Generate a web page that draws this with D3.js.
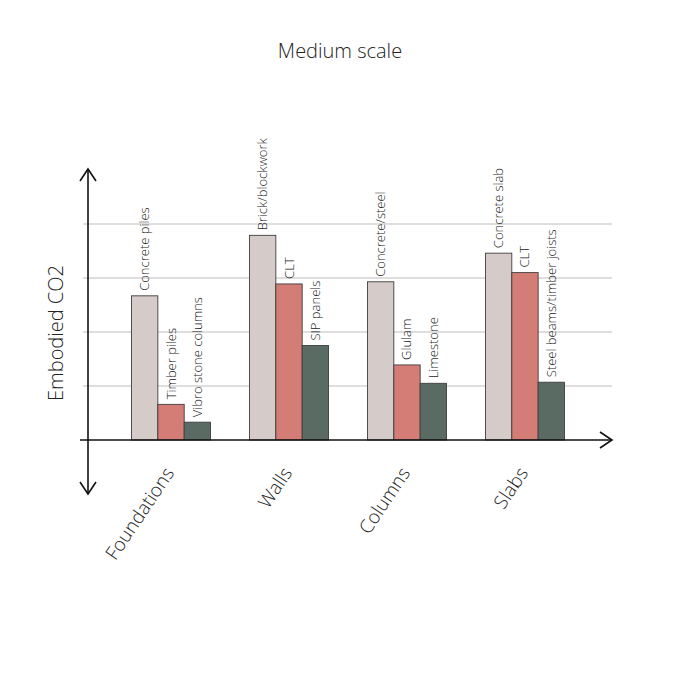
<!DOCTYPE html>
<html>
<head>
<meta charset="utf-8">
<script src="https://cdn.jsdelivr.net/npm/d3@7"></script>
<style>
  body { margin: 0; background: #fff; }
  text { font-family: "Open Sans", Lato, sans-serif; font-weight: 300; fill: #222; }
</style>
</head>
<body>
<svg id="chart"></svg>
<script>
// groups along the x axis
const categories = ['Foundations', 'Walls', 'Columns', 'Slabs'];
const series = ['high', 'mid', 'low'];

// bar names per group (high / mid / low)
const labelsHigh = ['Concrete piles', 'Brick/blockwork', 'Concrete/steel', 'Concrete slab'];
const labelsMid = ['Timber piles', 'CLT', 'Glulam', 'CLT'];
const labelsLow = ['Vibro stone columns', 'SIP panels', 'Limestone', 'Steel beams/timber joists'];

// embodied CO2 (relative units)
const valuesHigh = [2.67, 3.79, 2.93, 3.46];
const valuesMid = [0.66, 2.89, 1.39, 3.10];
const valuesLow = [0.33, 1.75, 1.05, 1.07];

const yTicks = [1, 2, 3, 4];

const colors = { high: '#d5cbc8', mid: '#d47d76', low: '#5a6b63' };

let oSvg = d3.select('#chart')
              .attr('width', 680)
              .attr('height', 680);

let x = d3.scaleBand()
          .domain(categories)
          .range([131.5, 564.5])
          .paddingInner(0.33)
          .paddingOuter(0);

let xInner = d3.scaleBand()
               .domain(series)
               .range([0, x.bandwidth()]);

let y = d3.scaleLinear()
          .domain([0, 5])
          .range([440, 170]);

let oRows = [];
categories.forEach((c, i) => {
    oRows.push({cat: c, key: 'high', value: valuesHigh[i], label: labelsHigh[i]});
    oRows.push({cat: c, key: 'mid', value: valuesMid[i], label: labelsMid[i]});
    oRows.push({cat: c, key: 'low', value: valuesLow[i], label: labelsLow[i]});
});

// gridlines
oSvg.append('g')
    .selectAll('line.grid')
    .data(yTicks)
    .enter().append('line')
        .attr('class', 'grid')
        .attr('x1', 83)
        .attr('x2', 612)
        .attr('y1', d => y(d))
        .attr('y2', d => y(d))
        .attr('stroke', '#bdbdbd')
        .attr('stroke-width', 1.2);

// bars
oSvg.selectAll('rect.bar')
    .data(oRows)
    .enter().append('rect')
        .attr('class', 'bar')
        .attr('x', d => x(d.cat) + xInner(d.key))
        .attr('y', d => y(d.value))
        .attr('width', xInner.bandwidth())
        .attr('height', d => y(0) - y(d.value))
        .attr('fill', d => colors[d.key])
        .attr('stroke', '#3e3e3e')
        .attr('stroke-width', 0.9);

// bar labels
oSvg.selectAll('text.barlabel')
    .data(oRows)
    .enter().append('text')
        .attr('class', 'barlabel')
        .attr('transform', d => {
            let cx = x(d.cat) + xInner(d.key) + xInner.bandwidth() / 2 + 4.5;
            return 'translate(' + cx + ',' + (y(d.value) - 5) + ') rotate(-90)';
        })
        .attr('font-size', 13)
        .text(d => d.label);

// axes with arrows
let oAxes = oSvg.append('g')
                .attr('fill', 'none')
                .attr('stroke', '#111')
                .attr('stroke-width', 1.6);

oAxes.append('line').attr('x1', 80).attr('x2', 612).attr('y1', y(0)).attr('y2', y(0));
oAxes.append('line').attr('x1', 88).attr('x2', 88).attr('y1', 169).attr('y2', 494);
oAxes.append('path').attr('d', 'M80,181 L88,169 L96,181');
oAxes.append('path').attr('d', 'M80,482 L88,494 L96,482');
oAxes.append('path').attr('d', 'M600,432 L612,440 L600,448');

// category labels
oSvg.selectAll('text.cat')
    .data(categories)
    .enter().append('text')
        .attr('class', 'cat')
        .attr('transform', d => 'translate(' + (x(d) + x.bandwidth() / 2 + 4) + ',473) rotate(-56)')
        .attr('text-anchor', 'end')
        .attr('font-size', 19)
        .text(d => d);

// title + axis title
oSvg.append('text')
    .attr('x', 340)
    .attr('y', 58)
    .attr('text-anchor', 'middle')
    .attr('font-size', 20)
    .text('Medium scale');

oSvg.append('text')
    .attr('transform', 'translate(63,333) rotate(-90)')
    .attr('text-anchor', 'middle')
    .attr('font-size', 20)
    .text('Embodied CO2');
</script>
</body>
</html>
